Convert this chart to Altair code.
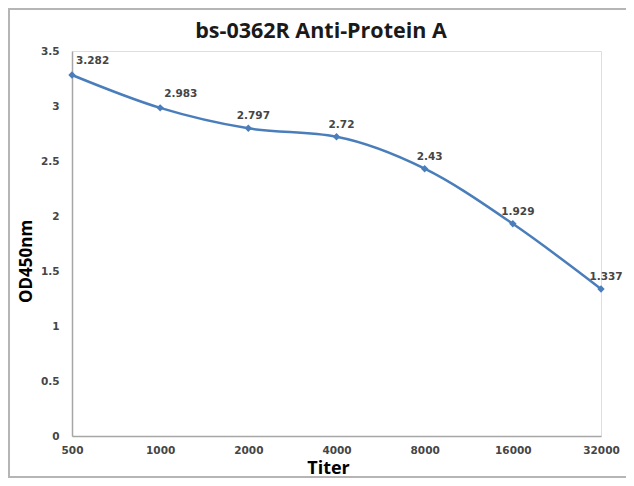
import altair as alt
import pandas as pd

titers = ["500", "1000", "2000", "4000", "8000", "16000", "32000"]
od450 = [3.282, 2.983, 2.797, 2.72, 2.43, 1.929, 1.337]
labels = ["3.282", "2.983", "2.797", "2.72", "2.43", "1.929", "1.337"]
chart_title = "bs-0362R Anti-Protein A"

df = pd.DataFrame({"Titer": titers, "OD": od450, "label": labels})
df["i"] = range(len(df))

W, H = 529, 385
PL, PT, PR, PB = 64, 43, 25, 42

LABEL_FONT = "DejaVu Sans"
TEXT_COLOR = "#454545"

x = alt.X("Titer:N", sort=titers,
          scale=alt.Scale(type="point", padding=0),
          axis=alt.Axis(title="Titer", labelAngle=0, ticks=False,
                        domainColor="#a6a6a6", domainWidth=1.5,
                        labelPadding=9,
                        titleX=256, titleY=37, titleBaseline="alphabetic",
                        labelFont=LABEL_FONT, labelFontSize=10.5,
                        labelColor=TEXT_COLOR, labelFontWeight="bold",
                        titleFont="Open Sans", titleFontSize=18,
                        titleFontWeight="bold", titleColor="#000000"))
y = alt.Y("OD:Q",
          scale=alt.Scale(domain=[0, 3.5], nice=False),
          axis=alt.Axis(title="OD450nm", values=[0, 0.5, 1, 1.5, 2, 2.5, 3, 3.5],
                        format="~g", ticks=False, grid=False,
                        domainColor="#a6a6a6", domainWidth=1.5,
                        labelPadding=13,
                        titleX=-46, titleY=210, titleBaseline="middle",
                        labelFont=LABEL_FONT, labelFontSize=10.5,
                        labelColor=TEXT_COLOR, labelFontWeight="bold",
                        titleFont="Open Sans", titleFontSize=17,
                        titleFontWeight="bold", titleColor="#000000"))

base = alt.Chart(df)

line = base.mark_line(interpolate="monotone", color="#4a7ebb", strokeWidth=2.5).encode(x=x, y=y)
pts = base.mark_point(shape="diamond", filled=True, size=55, color="#4a7ebb", opacity=1).encode(x=x, y=y)

txt_a = base.transform_filter("datum.i < 2").mark_text(
    align="left", baseline="middle", dx=4, dy=-14,
    font=LABEL_FONT, fontSize=10.5, fontWeight="bold", color=TEXT_COLOR
).encode(x=x, y=y, text="label:N")
txt_b = base.transform_filter("datum.i >= 2").mark_text(
    align="center", baseline="middle", dx=5, dy=-12,
    font=LABEL_FONT, fontSize=10.5, fontWeight="bold", color=TEXT_COLOR
).encode(x=x, y=y, text="label:N")

frame = alt.Chart(pd.DataFrame({"a": [0]})).mark_rect(
    fill=None, stroke="#b5b5b5", strokeWidth=2
).encode(
    x=alt.value(-PL + 1), x2=alt.value(W + PR + 20),
    y=alt.value(-PT + 1), y2=alt.value(H + PB - 1)
)

title = alt.Chart(pd.DataFrame({"t": [chart_title]})).mark_text(
    font="Open Sans", fontSize=21.5, fontWeight="bold", color="#1a1a1a",
    align="center", baseline="middle"
).encode(x=alt.value(249), y=alt.value(-19), text="t:N")

chart = alt.layer(frame, title, line, pts, txt_a, txt_b).properties(
    width=W, height=H,
    autosize=alt.AutoSizeParams(type="none"),
    padding={"left": PL, "top": PT, "right": PR, "bottom": PB},
).configure_view(stroke=None).configure(background="white")

chart.save("out.html", embed_options={"renderer": "svg", "actions": False})
